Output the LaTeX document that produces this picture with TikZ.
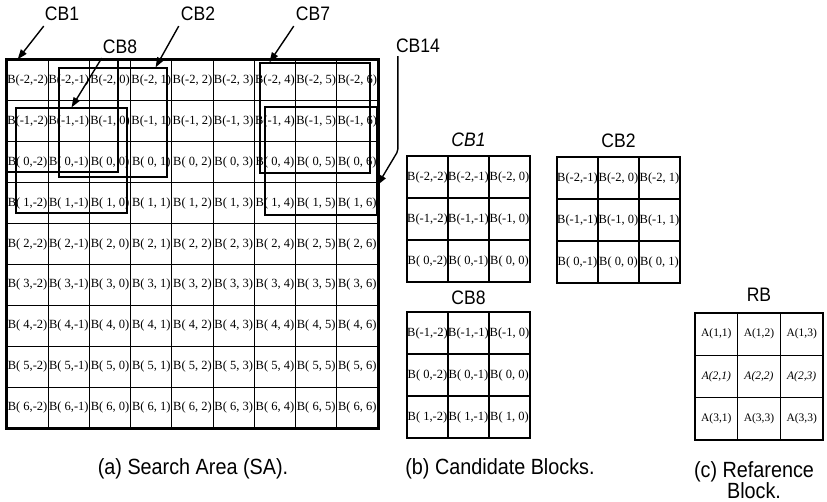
\documentclass[tikz,border=0pt]{standalone}
\usepackage{fontspec}
\setmainfont{Liberation Serif}
\setsansfont{Liberation Sans}
\newfontfamily\labfont[FakeStretch=0.9]{Liberation Sans}
\usetikzlibrary{positioning,arrows.meta,calc,fit}

\newcommand{\blab}[2]{B(\ifnum#1<0 #1\else\ #1\fi,\ifnum#2<0 #2\else\ #2\fi)}

\begin{document}
\begin{tikzpicture}[
  x=1pt, y=-1pt,
  cell/.style={draw, line width=1.1pt, minimum width=41.2pt, minimum height=40.9pt, inner sep=0pt, font=\fontsize{12.5}{14}\selectfont},
  frame/.style={draw, line width=2pt, inner sep=0pt},
  cbbox/.style={draw, line width=1.2pt, inner sep=0pt},
  cblab/.style={font=\labfont\fontsize{19.5}{22}\selectfont, inner sep=0pt},
  capt/.style={font=\labfont\fontsize{22}{20}\selectfont, align=center},
  pointer/.style={-{Triangle[length=10pt,width=7pt]}, line width=1.4pt}
]
\useasboundingbox (0,0) rectangle (827,502);

% (a) search area
\foreach \r [count=\i] in {-2,...,6}{
  \foreach \c [count=\j] in {-2,...,6}{
    \node[cell] (sa-\i-\j) at ({7+(\j-0.5)*41.22}, {60+(\i-0.5)*40.89}) {\blab{\r}{\c}};
  }
}
\node[frame, fit=(sa-1-1)(sa-9-9)] (sa) {};

% candidate block outlines inside the search area
\node[cbbox, fit={(7,60)(118,172)}] (cb1box) {};
\node[cbbox, fit={(59,68)(167,177)}] (cb2box) {};
\node[cbbox, fit={(16,108)(127,213)}] (cb8box) {};
\node[cbbox, fit={(260,63)(370,173)}] (cb7box) {};
\node[cbbox, fit={(265,107)(377,215)}] (cb14box) {};

\node[cblab] (cb1lab) at (62,14) {CB1};
\node[cblab] (cb2lab) at (198,14) {CB2};
\node[cblab] (cb7lab) at (313,14) {CB7};
\node[cblab] (cb8lab) at (120,47) {CB8};
\node[cblab] (cb14lab) at (418,46) {CB14};

\draw[pointer] ([xshift=-1pt,yshift=-5pt]cb1lab.south west) -- ($(cb1box.north west)!0.1!(cb1box.north east)$);
\draw[pointer] ([xshift=-2pt,yshift=-5pt]cb2lab.south west) -- ($(cb2box.north west)!0.89!(cb2box.north east)$);
\draw[pointer] ([xshift=-2pt,yshift=-5pt]cb7lab.south west) -- ($(cb7box.north west)!0.09!(cb7box.north east)$);
\draw[pointer] ([xshift=-1pt,yshift=-4pt]cb8lab.south west) -- ($(cb8box.north west)!0.5!(cb8box.north east)$);
\draw[pointer, rounded corners=2pt] ([xshift=2pt,yshift=-3pt]cb14lab.south west) -- ++(0,95) -- ($(cb14box.north east)!0.72!(cb14box.south east)$);

% (b) candidate blocks
\foreach \nm/\bx/\by/\br/\bc in {cbgrid1/407/156/-2/-2, cbgrid2/557/157/-2/-1, cbgrid8/407/312/-1/-2}{
  \foreach \i in {0,1,2}{
    \foreach \j in {0,1,2}{
      \pgfmathtruncatemacro{\rr}{\br+\i}
      \pgfmathtruncatemacro{\cc}{\bc+\j}
      \node[cell, minimum width=41pt, minimum height=42pt] (\nm-\i-\j) at ({\bx+(\j+0.5)*41}, {\by+(\i+0.5)*42}) {\blab{\rr}{\cc}};
    }
  }
  \node[frame, line width=1.6pt, fit=(\nm-0-0)(\nm-2-2)] (\nm) {};
}
\node[cblab, font=\labfont\itshape\fontsize{19.5}{22}\selectfont, above=9pt of cbgrid1-0-1] (cb1title) {CB1};
\node[cblab, above=9pt of cbgrid2-0-1] (cb2title) {CB2};
\node[cblab, above=7pt of cbgrid8-0-1] (cb8title) {CB8};

% (c) reference block
\foreach \lab [count=\k from 0] in {{A(1,1)},{A(1,2)},{A(1,3)},{\textit{A(2,1)}},{\textit{A(2,2)}},{\textit{A(2,3)}},{A(3,1)},{A(3,3)},{A(3,3)}}{
  \pgfmathtruncatemacro{\i}{floor(\k/3)}
  \pgfmathtruncatemacro{\j}{mod(\k,3)}
  \node[cell, minimum width=42.7pt, minimum height=42.3pt, font=\fontsize{11.5}{13}\selectfont] (rb-\i-\j) at ({695+(\j+0.5)*42.67}, {313+(\i+0.5)*42.3}) {\lab};
}
\node[frame, line width=1.6pt, fit=(rb-0-0)(rb-2-2)] (rb) {};
\node[cblab, above=11pt of rb-0-1] (rbtitle) {RB};

% captions
\node[capt] (capa) at (193,469) {(a) Search Area (SA).};
\node[capt] (capb) at (500,469) {(b) Candidate Blocks.};
\node[capt] (capc) at (754,480) {(c) Refarence\\Block.};
\end{tikzpicture}
\end{document}
